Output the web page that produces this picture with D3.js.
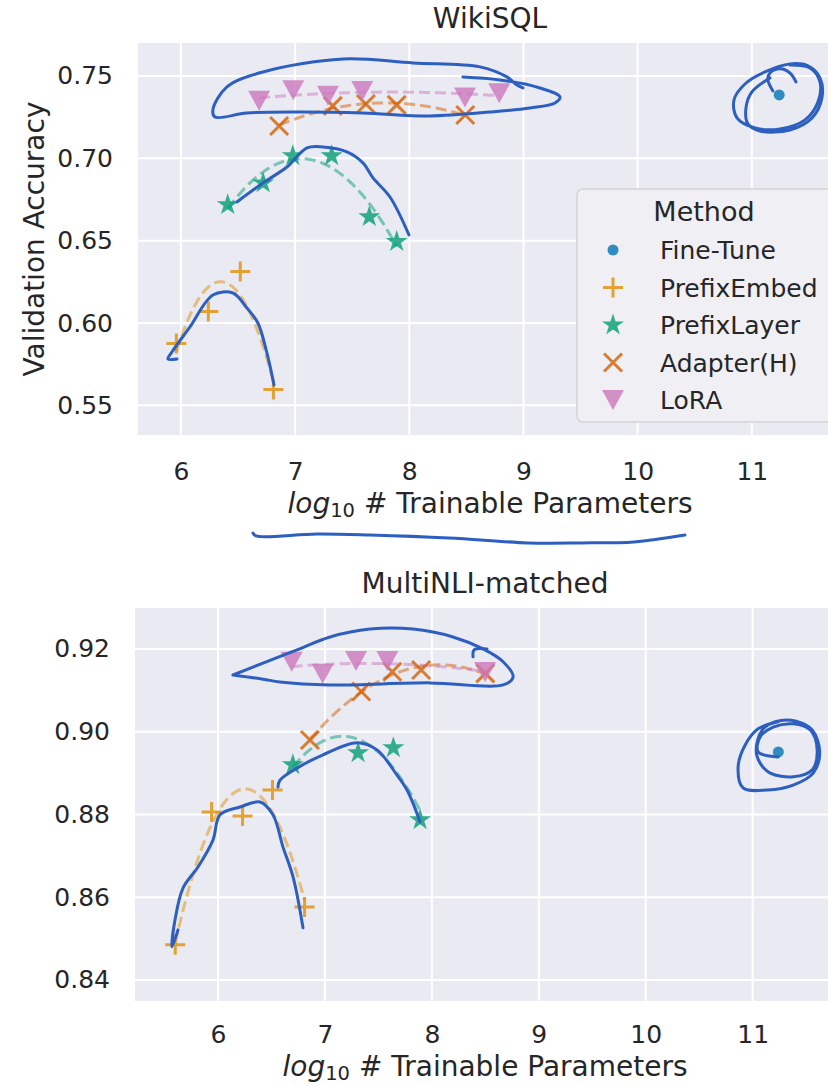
<!DOCTYPE html>
<html>
<head>
<meta charset="utf-8">
<script src="https://cdn.jsdelivr.net/npm/d3@7"></script>
<style>
body { margin: 0; background: #fff; }
text { font-family: "DejaVu Sans", sans-serif; fill: #262626; }
</style>
</head>
<body>
<div id="chart"></div>
<script>
// legend order, colours and marker kinds
var methods = ["Fine-Tune", "PrefixEmbed", "PrefixLayer", "Adapter(H)", "LoRA"];
var colors = ["#0173b2", "#de8f05", "#029e73", "#d55e00", "#cc78bc"];
var markers = ["circle", "plus", "star", "x", "tri"];
var xTicks = [6, 7, 8, 9, 10, 11];

// WikiSQL (log10 params, validation accuracy)
var wikiFineTuneX = [11.24];
var wikiFineTuneY = [0.7385];
var wikiPrefixEmbedX = [5.96, 6.24, 6.52, 6.81];
var wikiPrefixEmbedY = [0.5876, 0.6070, 0.6312, 0.5597];
var wikiPrefixLayerX = [6.41, 6.72, 6.98, 7.32, 7.65, 7.89];
var wikiPrefixLayerY = [0.6718, 0.6850, 0.7015, 0.7015, 0.6645, 0.6494];
var wikiAdapterX = [6.86, 7.33, 7.62, 7.89, 8.49];
var wikiAdapterY = [0.7196, 0.7318, 0.7330, 0.7324, 0.7263];
var wikiLoraX = [6.685, 6.984, 7.288, 7.588, 8.488, 8.788];
var wikiLoraY = [0.7350, 0.7413, 0.7379, 0.7409, 0.7369, 0.7395];
var wikiTicksY = [0.55, 0.60, 0.65, 0.70, 0.75];

// MultiNLI-matched
var mnliFineTuneX = [11.24];
var mnliFineTuneY = [0.8951];
var mnliPrefixEmbedX = [5.60, 5.94, 6.23, 6.51, 6.81];
var mnliPrefixEmbedY = [0.8485, 0.8806, 0.8796, 0.8859, 0.8576];
var mnliPrefixLayerX = [6.70, 7.31, 7.64, 7.89];
var mnliPrefixLayerY = [0.8920, 0.8949, 0.8961, 0.8787];
var mnliAdapterX = [6.86, 7.34, 7.63, 7.90, 8.50];
var mnliAdapterY = [0.8980, 0.9097, 0.9145, 0.9149, 0.9141];
var mnliLoraX = [6.689, 6.979, 7.291, 7.584, 8.498];
var mnliLoraY = [0.9169, 0.9140, 0.9171, 0.9171, 0.9144];
var mnliTicksY = [0.84, 0.86, 0.88, 0.90, 0.92];

// hand-drawn blue pen strokes, in data units of each panel
var wikiNotes = [
  [[8.470,0.7494],[8.794,0.7476],[9.144,0.7427],[9.320,0.7372],[9.276,0.7336],[9.057,0.7306],[8.707,0.7281],[8.181,0.7257],[7.594,0.7275],[7.016,0.7281],[6.578,0.7275],[6.298,0.7251],[6.280,0.7294],[6.403,0.7433],[6.718,0.7524],[7.419,0.7603],[8.032,0.7579],[8.619,0.7555],[8.855,0.7494],[8.943,0.7445],[8.996,0.7427]],
  [[6.490,0.6735],[6.718,0.6850],[6.928,0.6947],[7.104,0.7063],[7.244,0.7069],[7.454,0.7039],[7.594,0.6972],[7.682,0.6881],[7.831,0.6765],[7.997,0.6535]],
  [[5.965,0.5782],[5.886,0.5782],[5.921,0.5824],[6.079,0.5976],[6.280,0.6170],[6.455,0.6182],[6.578,0.6091],[6.674,0.6000],[6.753,0.5818],[6.815,0.5624]],
  [[6.631,0.4725],[6.657,0.4707],[7.191,0.4719],[7.655,0.4713],[8.347,0.4695],[9.039,0.4665],[9.504,0.4665],[9.968,0.4671],[10.414,0.4713]],
  [[11.185,0.7409],[11.141,0.7476],[11.159,0.7518],[11.247,0.7543],[11.334,0.7518],[11.387,0.7464]],
  [[11.334,0.7567],[11.509,0.7549],[11.597,0.7464],[11.579,0.7342],[11.466,0.7233],[11.247,0.7178],[11.028,0.7184],[10.870,0.7245],[10.844,0.7354],[10.940,0.7451],[11.115,0.7524],[11.334,0.7573],[11.492,0.7561],[11.597,0.7488],[11.614,0.7366],[11.527,0.7245],[11.334,0.7172],[11.071,0.7166],[10.966,0.7209],[10.949,0.7306],[11.001,0.7403],[11.159,0.7488]]
];
var mnliNotes = [
  [[6.140,0.9137],[6.421,0.9166],[6.739,0.9198],[7.048,0.9229],[7.422,0.9248],[7.824,0.9248],[8.198,0.9229],[8.479,0.9200],[8.666,0.9169],[8.760,0.9132],[8.666,0.9113],[7.983,0.9118],[7.048,0.9113],[6.580,0.9120],[6.421,0.9127],[6.140,0.9137]],
  [[8.385,0.9181],[8.395,0.9198],[8.516,0.9200]],
  [[6.561,0.8866],[6.580,0.8883],[6.739,0.8912],[6.982,0.8944],[7.300,0.8973],[7.487,0.8956],[7.674,0.8895],[7.768,0.8859],[7.890,0.8782]],
  [[5.626,0.8521],[5.570,0.8480],[5.598,0.8545],[5.673,0.8622],[5.813,0.8673],[5.953,0.8738],[6.019,0.8799],[6.206,0.8818],[6.393,0.8830],[6.514,0.8799],[6.608,0.8721],[6.702,0.8649],[6.795,0.8526]],
  [[11.239,0.8939],[11.051,0.8951],[11.070,0.8987],[11.192,0.9011],[11.379,0.9019],[11.539,0.9004],[11.603,0.8956],[11.557,0.8908],[11.379,0.8891],[11.164,0.8900],[11.070,0.8924],[11.033,0.8956],[11.089,0.9004],[11.211,0.9024],[11.398,0.9026],[11.557,0.9004],[11.627,0.8951],[11.566,0.8900],[11.379,0.8871],[11.136,0.8859],[10.911,0.8864],[10.864,0.8915],[10.930,0.8968],[11.051,0.9007],[11.239,0.9024]]
];

var panels = [
  { title: "WikiSQL", l: 138, r: 842, t: 43, b: 435, titleY: 28, xlabelY: 513, tickPad: 27,
    xDom: [5.624, 11.79], yDom: [0.532, 0.770], yTicks: wikiTicksY,
    xs: [wikiFineTuneX, wikiPrefixEmbedX, wikiPrefixLayerX, wikiAdapterX, wikiLoraX],
    ys: [wikiFineTuneY, wikiPrefixEmbedY, wikiPrefixLayerY, wikiAdapterY, wikiLoraY],
    notes: wikiNotes, legend: true, ylabel: true },
  { title: "MultiNLI-matched", l: 135, r: 835, t: 608, b: 1001, titleY: 593, xlabelY: 1076, tickPad: 24,
    xDom: [5.224, 11.77], yDom: [0.8349, 0.9299], yTicks: mnliTicksY,
    xs: [mnliFineTuneX, mnliPrefixEmbedX, mnliPrefixLayerX, mnliAdapterX, mnliLoraX],
    ys: [mnliFineTuneY, mnliPrefixEmbedY, mnliPrefixLayerY, mnliAdapterY, mnliLoraY],
    notes: mnliNotes, legend: false, ylabel: false }
];

var svg = d3.select("#chart").append("svg")
    .attr("width", 828)
    .attr("height", 1086);

function markerPath(kind) {
  if (kind == "circle") return d3.symbol(d3.symbolCircle, Math.PI * 5.5 * 5.5)();
  if (kind == "star") return d3.symbol(d3.symbolStar, 150)();
  if (kind == "plus") return "M-10,0H10M0,-10V10";
  if (kind == "x") return "M-9,-9L9,9M-9,9L9,-9";
  return "M-11,-10L11,-10L0,10Z";
}
function drawMarker(g, kind, color) {
  var filled = kind != "plus" && kind != "x";
  return g.append("path")
    .attr("d", markerPath(kind))
    .attr("fill", filled ? color : "none")
    .attr("stroke", filled ? "none" : color)
    .attr("stroke-width", 3)
    .attr("opacity", 0.8);
}

// quadratic least-squares fit, like seaborn regplot(order=2)
function quadFit(xs, ys) {
  var s = [0, 0, 0, 0, 0], t = [0, 0, 0];
  xs.forEach(function(x, i) {
    for (var k = 0; k < 5; k++) s[k] += Math.pow(x, k);
    for (var k2 = 0; k2 < 3; k2++) t[k2] += ys[i] * Math.pow(x, k2);
  });
  var A = [[s[0], s[1], s[2], t[0]], [s[1], s[2], s[3], t[1]], [s[2], s[3], s[4], t[2]]];
  for (var c = 0; c < 3; c++) {
    for (var r = c + 1; r < 3; r++) {
      var f = A[r][c] / A[c][c];
      for (var j = c; j < 4; j++) A[r][j] -= f * A[c][j];
    }
  }
  var co = [0, 0, 0];
  for (var r2 = 2; r2 >= 0; r2--) {
    var v = A[r2][3];
    for (var j2 = r2 + 1; j2 < 3; j2++) v -= A[r2][j2] * co[j2];
    co[r2] = v / A[r2][r2];
  }
  var lo = d3.min(xs), hi = d3.max(xs);
  return d3.range(0, 101).map(function(i) {
    var x = lo + (hi - lo) * i / 100;
    return [x, co[0] + co[1] * x + co[2] * x * x];
  });
}

panels.forEach(function(p) {
  var x = d3.scaleLinear().domain(p.xDom).range([p.l, p.r]);
  var y = d3.scaleLinear().domain(p.yDom).range([p.b, p.t]);
  var g = svg.append("g");

  g.append("rect")
    .attr("x", p.l).attr("y", p.t)
    .attr("width", p.r - p.l).attr("height", p.b - p.t)
    .attr("fill", "#eaeaf2");

  g.selectAll(".vgrid").data(xTicks).enter().append("line")
    .attr("x1", function(d) { return x(d); }).attr("x2", function(d) { return x(d); })
    .attr("y1", p.t).attr("y2", p.b)
    .attr("stroke", "#fff").attr("stroke-width", 2);
  g.selectAll(".hgrid").data(p.yTicks).enter().append("line")
    .attr("x1", p.l).attr("x2", p.r)
    .attr("y1", function(d) { return y(d); }).attr("y2", function(d) { return y(d); })
    .attr("stroke", "#fff").attr("stroke-width", 2);

  // axes
  var ax = g.append("g").attr("transform", "translate(0," + p.b + ")")
    .call(d3.axisBottom(x).tickValues(xTicks).tickSize(0).tickPadding(p.tickPad).tickFormat(d3.format("d")));
  var ay = g.append("g").attr("transform", "translate(" + p.l + ",0)")
    .call(d3.axisLeft(y).tickValues(p.yTicks).tickSize(0).tickPadding(25).tickFormat(d3.format(".2f")));
  [ax, ay].forEach(function(a) {
    a.select(".domain").remove();
    a.selectAll("text").style("font-size", "25px").attr("fill", "#262626")
      .style("font-family", '"DejaVu Sans", sans-serif');
  });

  // title and labels
  g.append("text")
    .attr("x", (p.l + p.r) / 2).attr("y", p.titleY)
    .attr("text-anchor", "middle").style("font-size", "28px")
    .text(p.title);
  var xl = g.append("text")
    .attr("x", (p.l + p.r) / 2).attr("y", p.xlabelY)
    .attr("text-anchor", "middle").style("font-size", "28px");
  xl.append("tspan").attr("font-style", "italic").text("log");
  xl.append("tspan").attr("dy", 4).style("font-size", "19.5px").text("10");
  xl.append("tspan").attr("dy", -4).text(" # Trainable Parameters");
  if (p.ylabel) {
    g.append("text")
      .attr("transform", "translate(44," + (p.t + p.b) / 2 + ") rotate(-90)")
      .attr("text-anchor", "middle").style("font-size", "28px")
      .text("Validation Accuracy");
  }

  // dashed regression curves
  var line = d3.line().x(function(d) { return x(d[0]); }).y(function(d) { return y(d[1]); });
  methods.forEach(function(m, i) {
    if (p.xs[i].length < 3) return;
    g.append("path")
      .attr("d", line(quadFit(p.xs[i], p.ys[i])))
      .attr("fill", "none")
      .attr("stroke", colors[i]).attr("stroke-width", 3)
      .attr("stroke-dasharray", "11,5").attr("opacity", 0.5);
  });

  // markers
  methods.forEach(function(m, i) {
    p.xs[i].forEach(function(v, j) {
      drawMarker(g, markers[i], colors[i])
        .attr("transform", "translate(" + x(v) + "," + y(p.ys[i][j]) + ")");
    });
  });

  // legend
  if (p.legend) {
    var lg = g.append("g");
    lg.append("rect")
      .attr("x", 577).attr("y", 189).attr("width", 260).attr("height", 233)
      .attr("rx", 6).attr("fill", "#efeff4").attr("stroke", "#d2d2d8").attr("stroke-width", 1.5);
    lg.append("text").attr("x", 704).attr("y", 221)
      .attr("text-anchor", "middle").style("font-size", "27px").text("Method");
    methods.forEach(function(m, i) {
      var yy = 250 + i * 37.5;
      drawMarker(lg, markers[i], colors[i]).attr("transform", "translate(613," + yy + ")");
      lg.append("text").attr("x", 660).attr("y", yy).attr("dy", "0.36em")
        .style("font-size", "25px").text(m);
    });
  }

  // pen annotations
  var pen = d3.line().curve(d3.curveCatmullRom.alpha(0.5))
    .x(function(d) { return x(d[0]); }).y(function(d) { return y(d[1]); });
  p.notes.forEach(function(s) {
    g.append("path").attr("d", pen(s))
      .attr("fill", "none").attr("stroke", "#2d5fc0")
      .attr("stroke-width", 3).attr("stroke-linecap", "round").attr("stroke-linejoin", "round");
  });
});
</script>
</body>
</html>
